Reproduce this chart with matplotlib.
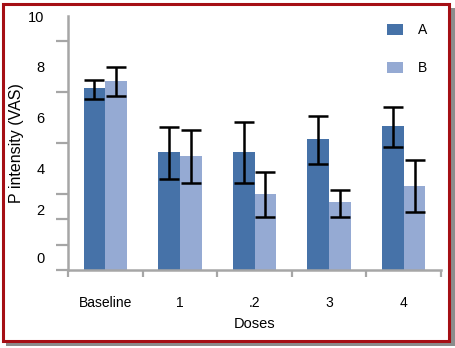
import numpy as np
import matplotlib.pyplot as plt
from matplotlib.patches import Rectangle

plt.rcParams['font.family'] = ['Liberation Sans', 'DejaVu Sans']

# --- data ---
doses = ["Baseline", "1", ".2", "3", "4"]
a_mean = [7.17, 4.66, 4.66, 5.16, 5.67]
a_low = [6.73, 3.58, 3.41, 4.16, 4.83]
a_high = [7.48, 5.64, 5.81, 6.08, 6.43]
b_mean = [7.44, 4.48, 2.99, 2.69, 3.31]
b_low = [6.85, 3.41, 2.10, 2.10, 2.30]
b_high = [7.99, 5.51, 3.85, 3.16, 4.33]

col_a = "#4672A8"
col_b = "#95AAD3"
axis_col = "#a6a6a6"

fig = plt.figure(figsize=(4.56, 3.48), dpi=100)

# red frame with grey shadow (behind the axes)
fig.patches.append(Rectangle((6 / 456, 2 / 348), 449 / 456, 338 / 348, transform=fig.transFigure,
                             facecolor="#8c8c8c", edgecolor="none", zorder=-2))
fig.patches.append(Rectangle((3 / 456, 7 / 348), 446 / 456, 337 / 348, transform=fig.transFigure,
                             facecolor="white", edgecolor="#A50F15", linewidth=2.2, zorder=-1))

ax = fig.add_axes([68 / 456, 1 - 270 / 348, 373 / 456, 254 / 348])
ax.set_facecolor("none")

x = np.arange(len(doses))
w = 0.29
a_err = [np.array(a_mean) - np.array(a_low), np.array(a_high) - np.array(a_mean)]
b_err = [np.array(b_mean) - np.array(b_low), np.array(b_high) - np.array(b_mean)]
ekw = dict(ecolor="black", elinewidth=1.8, capsize=7, capthick=1.8)
ax.bar(x - w / 2, a_mean, w, color=col_a, label="A", yerr=a_err, error_kw=ekw)
ax.bar(x + w / 2, b_mean, w, color=col_b, label="B", yerr=b_err, error_kw=ekw)

ax.set_xlim(-0.5, len(doses) - 0.5)
ax.set_ylim(0, 10)

# ticks: one every unit, labels drawn where the original put them
ax.set_yticks(np.arange(0, 11, 1), minor=True)
ax.set_yticks([0.5, 2.4, 4, 6, 8, 10])
ax.set_yticklabels(["0", "2", "4", "6", "8", "10"])
ax.tick_params(axis="y", which="major", length=0, pad=17, labelsize=10.5)
ax.tick_params(axis="y", which="minor", length=9, width=1.6, color=axis_col, direction="out")

ax.set_xticks(np.arange(-0.5, len(doses), 1), minor=True)
ax.set_xticks(x)
ax.set_xticklabels(doses)
ax.tick_params(axis="x", which="major", length=0, pad=19, labelsize=10)
ax.tick_params(axis="x", which="minor", length=5, width=1.6, color=axis_col, direction="out")

for s in ["top", "right"]:
    ax.spines[s].set_visible(False)
for s in ["left", "bottom"]:
    ax.spines[s].set_color(axis_col)
    ax.spines[s].set_linewidth(1.8)

ax.set_ylabel("P intensity (VAS)", fontsize=11.5)
ax.yaxis.set_label_coords(-0.117, 0.5)
ax.set_xlabel("Doses", fontsize=10.5, labelpad=5)

ax.legend(loc="upper left", bbox_to_anchor=(376 / 456, 1 - 12 / 348), bbox_transform=fig.transFigure,
          frameon=False, fontsize=10, borderpad=0.3,
          handlelength=1.15, handleheight=0.8, labelspacing=1.75, handletextpad=1.1)

fig.savefig("out.png", dpi=100)
